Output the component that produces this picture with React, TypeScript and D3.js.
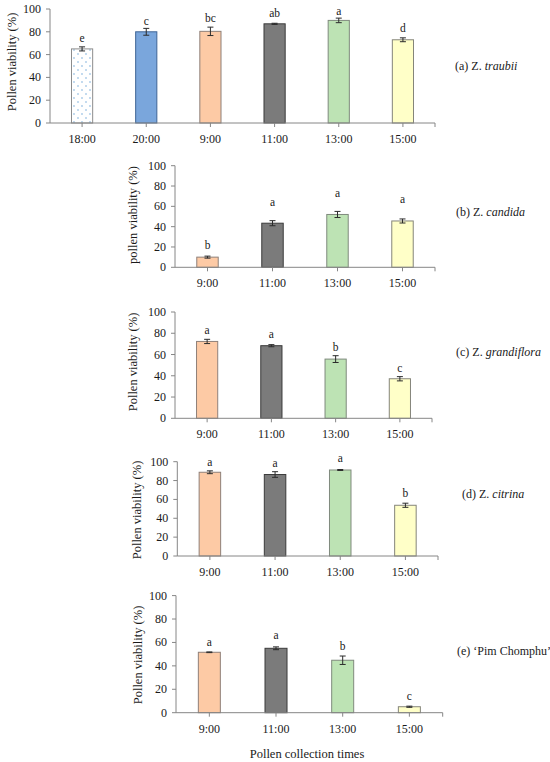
import React from "react";
import * as d3 from "d3";

// ---------- data ----------
const catsA = ["18:00", "20:00", "9:00", "11:00", "13:00", "15:00"];
const valsA = [65, 80, 80.4, 87, 90, 73];
const errsA = [1.8, 3, 3.7, 0.5, 2, 1.7];
const lettersA = ["e", "c", "bc", "ab", "a", "d"];
const letterPosA = [74.3, 89.7, 91.8, 96.5, 98.5, 83];

const catsDay = ["9:00", "11:00", "13:00", "15:00"];

const valsB = [10, 43.4, 52, 45.6];
const errsB = [1, 2.5, 3, 2];
const lettersB = ["b", "a", "a", "a"];
const letterPosB = [21.7, 64.5, 73.5, 67];

const valsC = [72.3, 68.3, 55.7, 37.2];
const errsC = [2, 1, 3.2, 2];
const lettersC = ["a", "a", "b", "c"];
const letterPosC = [83, 79, 66.7, 47.5];

const valsD = [88.8, 86.4, 91.2, 53.8];
const errsD = [1.5, 3, 0.5, 2.2];
const lettersD = ["a", "a", "a", "b"];
const letterPosD = [100, 98.3, 103.6, 66.5];

const valsE = [51.6, 55, 44.8, 5.1];
const errsE = [0.3, 1.2, 3.6, 0.5];
const lettersE = ["a", "a", "b", "c"];
const letterPosE = [60.7, 66.4, 57.3, 14.5];

const yTicks = [0, 20, 40, 60, 80, 100];

// ---------- styles ----------
const FONT = "Liberation Serif, DejaVu Serif, serif";
const AXIS = "#868686";
const TXT = "#1a1a1a";

const fillFor: Record<string, { fill: string; stroke: string }> = {
  "18:00": { fill: "url(#dots)", stroke: "#8c8c8c" },
  "20:00": { fill: "#7aa6dc", stroke: "#3e6496" },
  "9:00": { fill: "#fdcaa5", stroke: "#8f8079" },
  "11:00": { fill: "#7b7b7b", stroke: "#3a3a3a" },
  "13:00": { fill: "#bde3b4", stroke: "#7f8a7d" },
  "15:00": { fill: "#ffffc8", stroke: "#85857a" },
};

type PanelProps = {
  cats: string[];
  vals: number[];
  errs: number[];
  letters: string[];
  letterPos: number[];
  x0: number;
  x1: number;
  yTop: number;
  yBottom: number;
  yLabel: string;
  yLabelX: number;
  yLabelY: number;
  tag: string;
  species: string;
  speciesItalic: boolean;
  titleX: number;
  titleY: number;
};

const txtStyle: React.CSSProperties = { fontFamily: FONT };

function Panel(p: PanelProps) {
  const x = d3.scaleBand<string>().domain(p.cats).range([p.x0, p.x1]).paddingInner(0).paddingOuter(0);
  const y = d3.scaleLinear().domain([0, 100]).range([p.yBottom, p.yTop]);
  const bw = x.bandwidth() * 0.33;
  return (
    <g>
      {p.cats.map((c, i) => {
        const cx = (x(c) as number) + x.bandwidth() / 2;
        const st = fillFor[c];
        return (
          <rect
            key={"b" + i}
            x={cx - bw / 2}
            y={y(p.vals[i])}
            width={bw}
            height={y(0) - y(p.vals[i])}
            fill={st.fill}
            stroke={st.stroke}
            strokeWidth={1}
          />
        );
      })}
      {p.cats.map((c, i) => {
        const cx = (x(c) as number) + x.bandwidth() / 2;
        const t = y(p.vals[i] + p.errs[i]);
        const b = y(p.vals[i] - p.errs[i]);
        return (
          <g key={"e" + i} stroke="#2b2b2b" strokeWidth={1}>
            <line x1={cx} x2={cx} y1={t} y2={b} />
            <line x1={cx - 3} x2={cx + 3} y1={t} y2={t} />
            <line x1={cx - 3} x2={cx + 3} y1={b} y2={b} />
          </g>
        );
      })}
      {p.cats.map((c, i) => {
        const cx = (x(c) as number) + x.bandwidth() / 2;
        return (
          <text
            key={"l" + i}
            x={cx}
            y={y(p.letterPos[i])}
            textAnchor="middle"
            dominantBaseline="central"
            fontSize={11.5}
            style={txtStyle}
            fill={TXT}
          >
            {p.letters[i]}
          </text>
        );
      })}
      <line x1={p.x0} x2={p.x0} y1={y(100)} y2={y(0)} stroke={AXIS} />
      {yTicks.map((t) => (
        <g key={"yt" + t}>
          <line x1={p.x0 - 4} x2={p.x0} y1={y(t)} y2={y(t)} stroke={AXIS} />
          <text
            x={p.x0 - 9}
            y={y(t)}
            textAnchor="end"
            dominantBaseline="central"
            fontSize={12}
            style={txtStyle}
            fill={TXT}
          >
            {t}
          </text>
        </g>
      ))}
      <line x1={p.x0} x2={p.x1} y1={y(0)} y2={y(0)} stroke={AXIS} />
      {p.cats.map((c, i) => {
        const cx = (x(c) as number) + x.bandwidth() / 2;
        return (
          <g key={"xt" + i}>
            <line x1={cx} x2={cx} y1={y(0)} y2={y(0) + 4} stroke={AXIS} />
            <text
              x={cx}
              y={y(0) + 16}
              textAnchor="middle"
              dominantBaseline="central"
              fontSize={12}
              style={txtStyle}
              fill={TXT}
            >
              {c}
            </text>
          </g>
        );
      })}
      <line x1={p.x1} x2={p.x1} y1={y(0)} y2={y(0) + 4} stroke={AXIS} />
      <text
        transform={`translate(${p.yLabelX},${p.yLabelY}) rotate(-90)`}
        textAnchor="middle"
        dominantBaseline="central"
        fontSize={12.5}
        style={txtStyle}
        fill={TXT}
      >
        {p.yLabel}
      </text>
      <text x={p.titleX} y={p.titleY} dominantBaseline="central" fontSize={12} style={txtStyle} fill={TXT}>
        {p.tag}
        <tspan fontStyle={p.speciesItalic ? "italic" : "normal"}>{p.species}</tspan>
      </text>
    </g>
  );
}

export default function App() {
  return (
    <svg
      width={550}
      height={762}
      viewBox="0 0 550 762"
      style={{ position: "absolute", left: 0, top: 0, background: "#fff" }}
    >
      <defs>
        <pattern id="dots" width={8} height={8} patternUnits="userSpaceOnUse">
          <rect width={8} height={8} fill="#ffffff" />
          <circle cx={2} cy={2} r={0.7} fill="#5b9bd5" />
          <circle cx={6} cy={6} r={0.7} fill="#5b9bd5" />
        </pattern>
      </defs>
      <rect width={550} height={762} fill="#fff" />
      <Panel
        cats={catsA}
        vals={valsA}
        errs={errsA}
        letters={lettersA}
        letterPos={letterPosA}
        x0={50}
        x1={435}
        yTop={9}
        yBottom={123}
        yLabel="Pollen viability (%)"
        yLabelX={12}
        yLabelY={62}
        tag="(a) Z. "
        species="traubii"
        speciesItalic={true}
        titleX={455}
        titleY={66}
      />
      <Panel
        cats={catsDay}
        vals={valsB}
        errs={errsB}
        letters={lettersB}
        letterPos={letterPosB}
        x0={175}
        x1={435}
        yTop={165.7}
        yBottom={267.3}
        yLabel="pollen viability (%)"
        yLabelX={133}
        yLabelY={215}
        tag="(b) Z. "
        species="candida"
        speciesItalic={true}
        titleX={456}
        titleY={212}
      />
      <Panel
        cats={catsDay}
        vals={valsC}
        errs={errsC}
        letters={lettersC}
        letterPos={letterPosC}
        x0={175}
        x1={432}
        yTop={312}
        yBottom={418.3}
        yLabel="Pollen viability (%)"
        yLabelX={133}
        yLabelY={362}
        tag="(c) Z. "
        species="grandiflora"
        speciesItalic={true}
        titleX={456}
        titleY={352}
      />
      <Panel
        cats={catsDay}
        vals={valsD}
        errs={errsD}
        letters={lettersD}
        letterPos={letterPosD}
        x0={177.3}
        x1={438}
        yTop={461.7}
        yBottom={556}
        yLabel="Pollen viability (%)"
        yLabelX={136.7}
        yLabelY={510}
        tag="(d) Z. "
        species="citrina"
        speciesItalic={true}
        titleX={462}
        titleY={494}
      />
      <Panel
        cats={catsDay}
        vals={valsE}
        errs={errsE}
        letters={lettersE}
        letterPos={letterPosE}
        x0={176}
        x1={442.7}
        yTop={595.6}
        yBottom={712.7}
        yLabel="Pollen viability (%)"
        yLabelX={138}
        yLabelY={655}
        tag="(e) ‘Pim Chomphu’"
        species=""
        speciesItalic={false}
        titleX={457}
        titleY={651}
      />
      <text
        x={307}
        y={754}
        textAnchor="middle"
        dominantBaseline="central"
        fontSize={12.5}
        style={txtStyle}
        fill={TXT}
      >
        Pollen collection times
      </text>
    </svg>
  );
}
